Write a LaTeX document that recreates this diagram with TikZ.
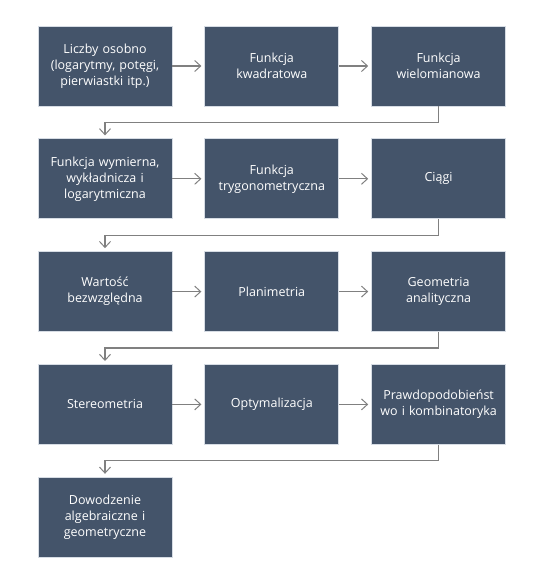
\documentclass[tikz,border=0pt]{standalone}
\usepackage{fontspec}
\setmainfont{Open Sans}
\usetikzlibrary{positioning,arrows.meta}
\definecolor{boxblue}{HTML}{44546A}
\definecolor{boxedge}{HTML}{D6DCE4}
\definecolor{linegray}{HTML}{808080}
\tikzset{
  box/.style={rectangle, fill=boxblue, draw=boxedge, line width=0.8pt,
    minimum width=134pt, minimum height=80pt, text width=128pt, align=center,
    text=white, inner sep=0pt, font=\fontsize{12.5}{16}\selectfont},
  flow/.style={draw=linegray, line width=1.1pt, shorten >=3pt,
    -{Straight Barb[length=6pt,width=11pt,line width=1pt]}},
}

\begin{document}
\begin{tikzpicture}[x=1pt, y=1pt, node distance=32pt and 32pt]
    \useasboundingbox (0,0) rectangle (537,-577);
    %
    \node[box] (nLiczby) at (105,-66) {Liczby osobno\\(logarytmy, potęgi,\\pierwiastki itp.)};
    \node[box, right=of nLiczby] (nKwadr) {Funkcja\\kwadratowa};
    \node[box, right=of nKwadr] (nWielom) {Funkcja\\wielomianowa};
    %
    \node[box, below=of nLiczby] (nWymier) {Funkcja wymierna,\\wykładnicza i\\logarytmiczna};
    \node[box, right=of nWymier] (nTryg) {Funkcja\\trygonometryczna};
    \node[box, right=of nTryg] (nCiagi) {Ciągi};
    %
    \node[box, below=of nWymier] (nWartosc) {Wartość\\bezwzględna};
    \node[box, right=of nWartosc] (nPlani) {Planimetria};
    \node[box, right=of nPlani] (nGeoAn) {Geometria\\analityczna};
    %
    \node[box, below=of nWartosc] (nStereo) {Stereometria};
    \node[box, right=of nStereo] (nOptym) {Optymalizacja};
    \node[box, right=of nOptym] (nPrawd) {Prawdopodobieńst\\wo i kombinatoryka};
    %
    \node[box, below=of nStereo] (nDowod) {Dowodzenie\\algebraiczne i\\geometryczne};
    %
    \foreach \a/\b in {nLiczby/nKwadr, nKwadr/nWielom, nWymier/nTryg, nTryg/nCiagi,
                       nWartosc/nPlani, nPlani/nGeoAn, nStereo/nOptym, nOptym/nPrawd}
    \draw[flow] (\a) -- (\b);
    %
    \foreach \a/\b in {nWielom/nWymier, nCiagi/nWartosc, nGeoAn/nStereo, nPrawd/nDowod}
    \draw[flow] (\a.south) -- ++(0,-16) -| (\b.north);
\end{tikzpicture}
\end{document}
